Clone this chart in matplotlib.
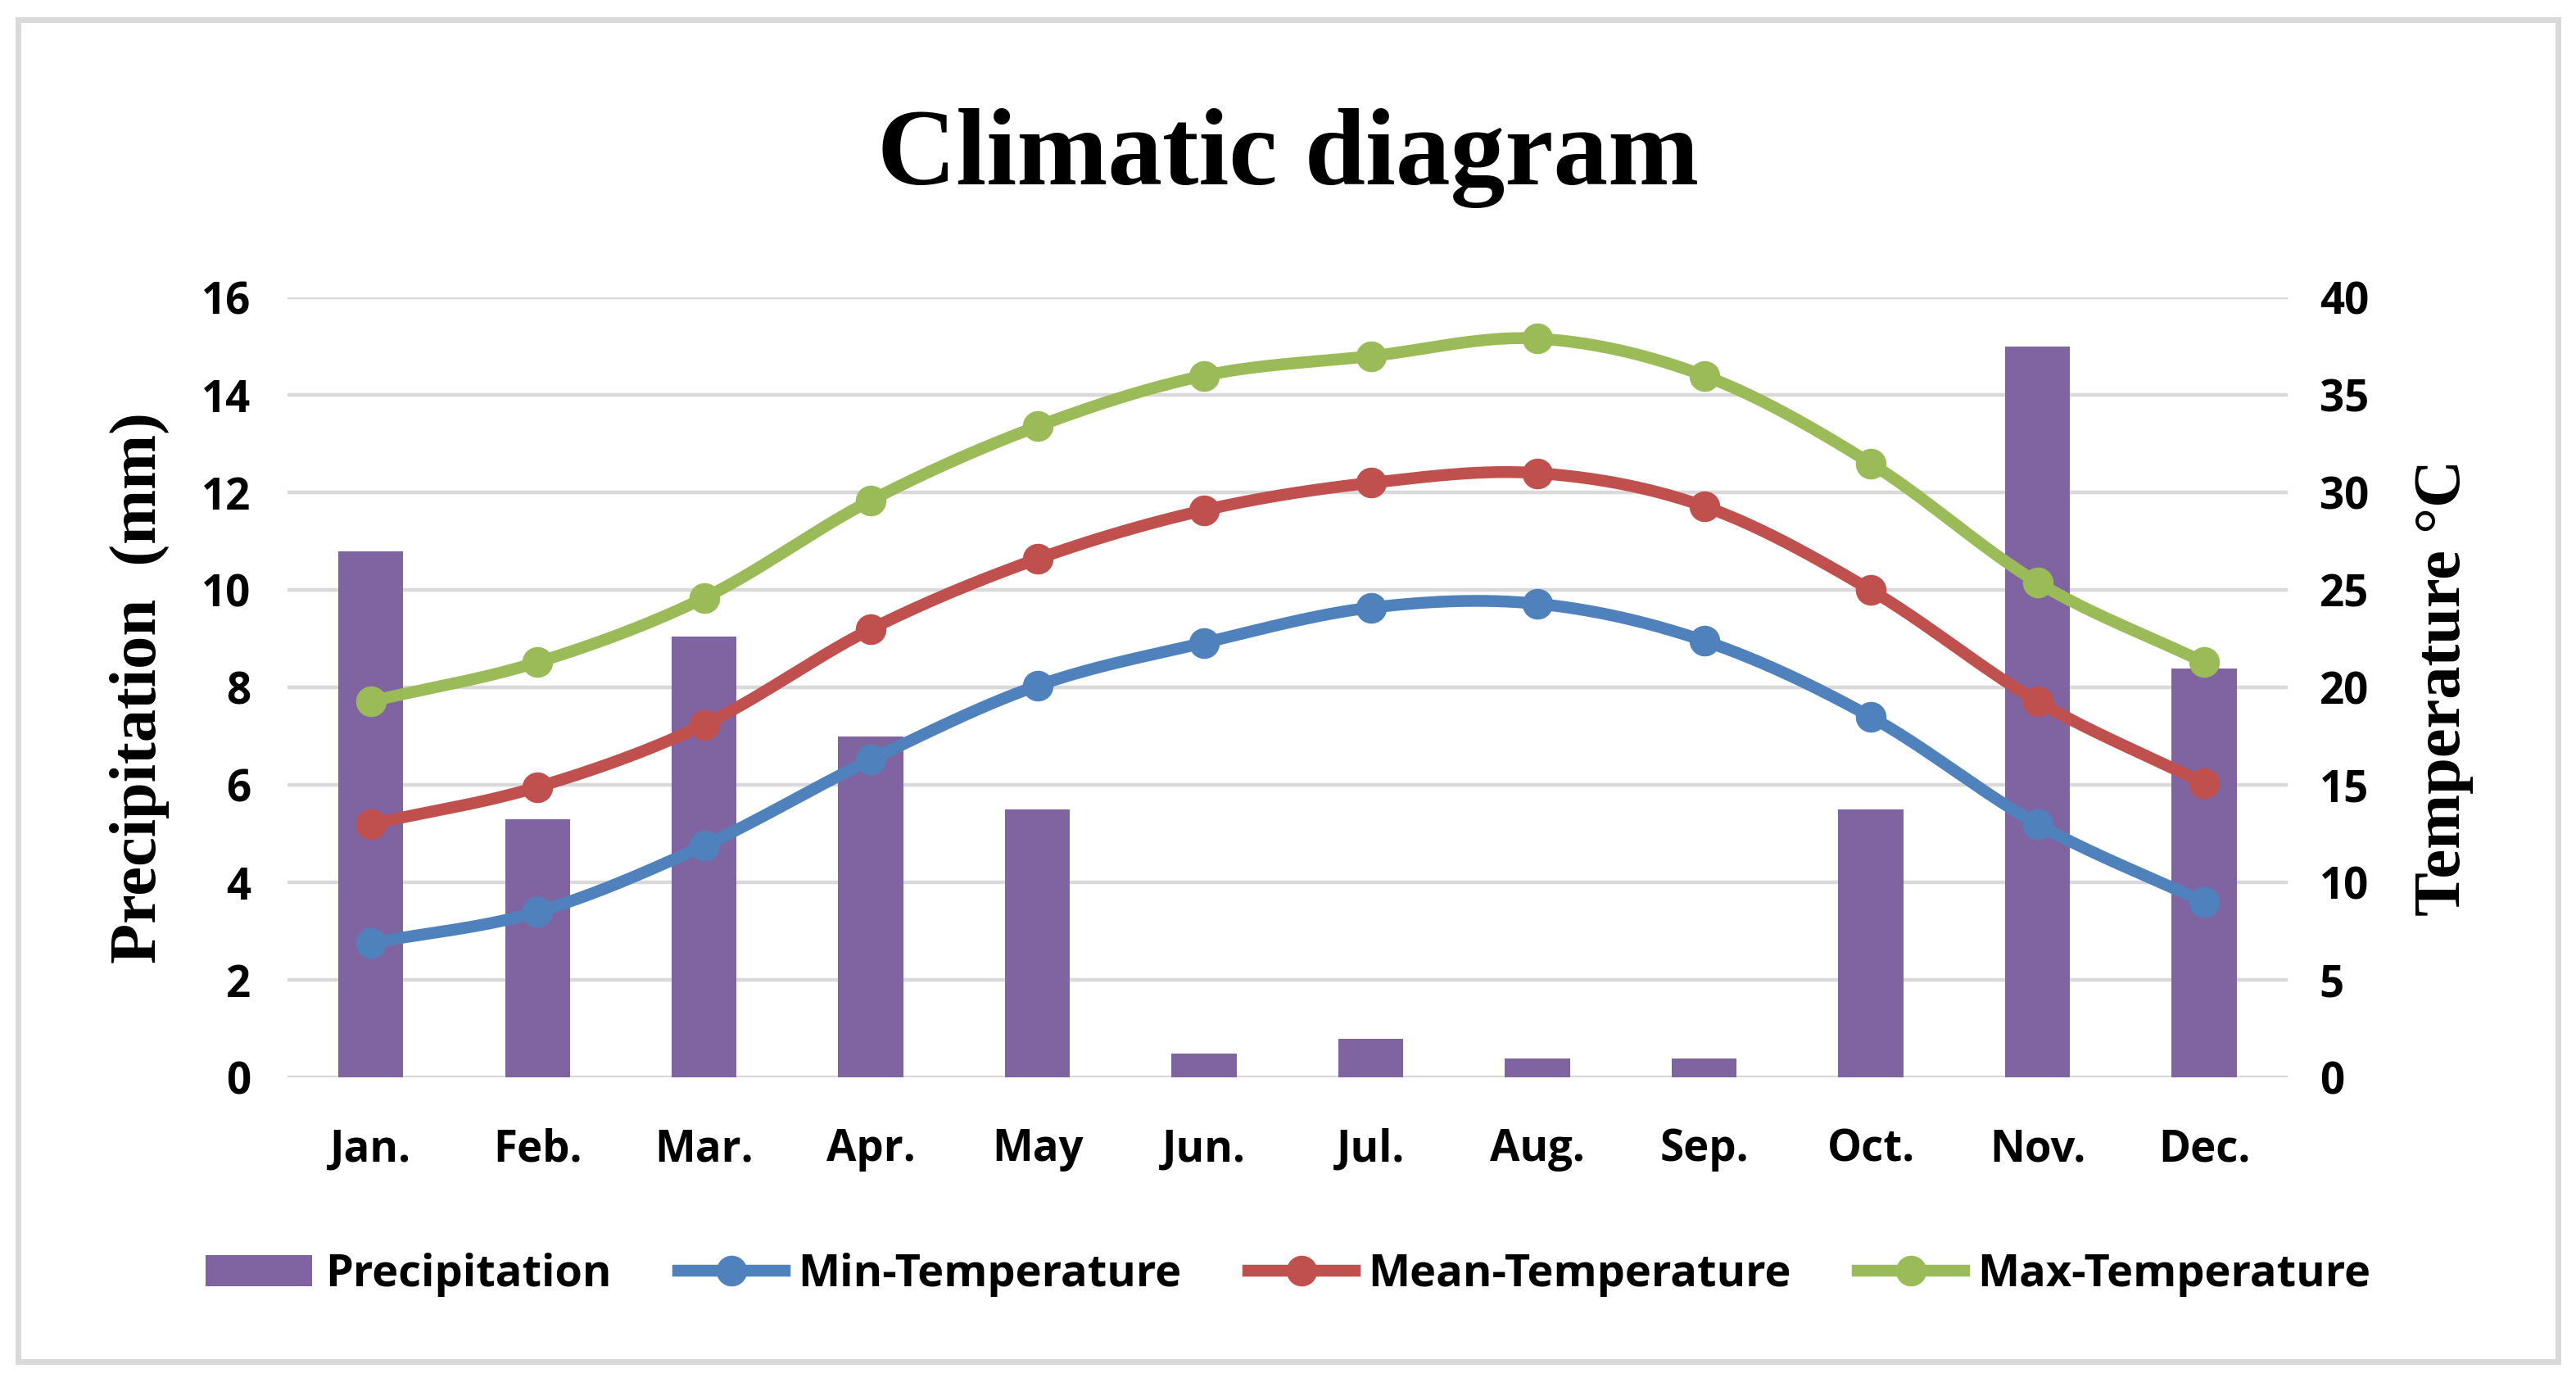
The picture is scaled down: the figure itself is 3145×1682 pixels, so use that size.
import numpy as np
import matplotlib.pyplot as plt
from matplotlib.patches import Rectangle

months = ['Jan.', 'Feb.', 'Mar.', 'Apr.', 'May', 'Jun.', 'Jul.', 'Aug.', 'Sep.', 'Oct.', 'Nov.', 'Dec.']
precip = [10.8, 5.3, 9.05, 7.0, 5.5, 0.5, 0.8, 0.4, 0.4, 5.5, 15.0, 8.4]
t_min = [6.9, 8.5, 11.9, 16.3, 20.1, 22.3, 24.1, 24.3, 22.4, 18.5, 13.0, 9.0]
t_mean = [13.0, 14.9, 18.1, 23.0, 26.6, 29.1, 30.5, 31.0, 29.3, 25.0, 19.3, 15.1]
t_max = [19.3, 21.3, 24.6, 29.6, 33.4, 36.0, 37.0, 37.9, 36.0, 31.5, 25.4, 21.3]


def smooth(x, y, n=30):
    # catmull-rom curve through the points, like excel's smoothed line
    x = np.asarray(x, float)
    y = np.asarray(y, float)
    px = np.concatenate([[2 * x[0] - x[1]], x, [2 * x[-1] - x[-2]]])
    py = np.concatenate([[2 * y[0] - y[1]], y, [2 * y[-1] - y[-2]]])
    xs, ys = [], []
    t = np.linspace(0, 1, n)
    for i in range(1, len(px) - 2):
        for p, out in ((px, xs), (py, ys)):
            p0, p1, p2, p3 = p[i - 1], p[i], p[i + 1], p[i + 2]
            out.extend(0.5 * ((2 * p1) + (-p0 + p2) * t + (2 * p0 - 5 * p1 + 4 * p2 - p3) * t ** 2
                              + (-p0 + 3 * p1 - 3 * p2 + p3) * t ** 3))
    return np.array(xs), np.array(ys)


sans = 'Open Sans'
serif = 'Liberation Serif'

fig = plt.figure(figsize=(15.725, 8.41), dpi=200)
fig.patches.append(Rectangle((0.007, 0.012), 0.986, 0.974, transform=fig.transFigure,
                             fill=False, edgecolor='#D9D9D9', linewidth=2.5))

ax = fig.add_axes([0.1116, 0.218, 0.7764, 0.566])
x = np.arange(len(months))
bars = ax.bar(x, precip, width=0.39, color='#8064A2', zorder=2, label='Precipitation')
ax.set_ylim(0, 16)
ax.set_xlim(-0.5, 11.5)
ax.set_yticks(range(0, 17, 2))
ax.yaxis.grid(True, color='#D9D9D9', linewidth=1.6, zorder=0)
ax.set_axisbelow(True)
for s in ax.spines.values():
    s.set_visible(False)
ax.tick_params(length=0, labelsize=19, pad=16)
ax.set_xticks(x)
ax.set_xticklabels(months)
for lab in ax.get_xticklabels() + ax.get_yticklabels():
    lab.set_fontweight('bold')
    lab.set_family(sans)
ax.tick_params(axis='x', pad=22)
ax.set_ylabel('Precipitation  (mm)', family=serif, fontweight='bold', fontsize=29, labelpad=14)

ax2 = ax.twinx()
ax2.set_ylim(0, 40)
ax2.set_yticks(range(0, 41, 5))
for s in ax2.spines.values():
    s.set_visible(False)
ax2.tick_params(length=0, labelsize=19, pad=14)
for lab in ax2.get_yticklabels():
    lab.set_fontweight('bold')
    lab.set_family(sans)
ax2.set_ylabel('Temperature °C', family=serif, fontweight='bold', fontsize=29, labelpad=20)

handles = [bars]
for vals, col, name in [(t_min, '#4F81BD', 'Min-Temperature'),
                        (t_mean, '#C0504D', 'Mean-Temperature'),
                        (t_max, '#9BBB59', 'Max-Temperature')]:
    sx, sy = smooth(x, vals)
    ax2.plot(sx, sy, color=col, linewidth=5.2, solid_capstyle='round', zorder=3)
    ax2.plot(x, vals, 'o', color=col, markersize=12.5, zorder=4)
    h, = ax2.plot([], [], '-o', color=col, linewidth=5.2, markersize=12.5, label=name)
    handles.append(h)

fig.text(0.5, 0.885, 'Climatic diagram', ha='center', va='center', family=serif,
         fontweight='bold', fontsize=48)

fig.legend(handles=handles, loc='center', bbox_to_anchor=(0.5, 0.075), ncol=4, frameon=False,
           prop={'family': sans, 'weight': 'bold', 'size': 19.5}, handlelength=2.4,
           handletextpad=0.3, columnspacing=1.5)

fig.savefig('out.png', dpi=200)
